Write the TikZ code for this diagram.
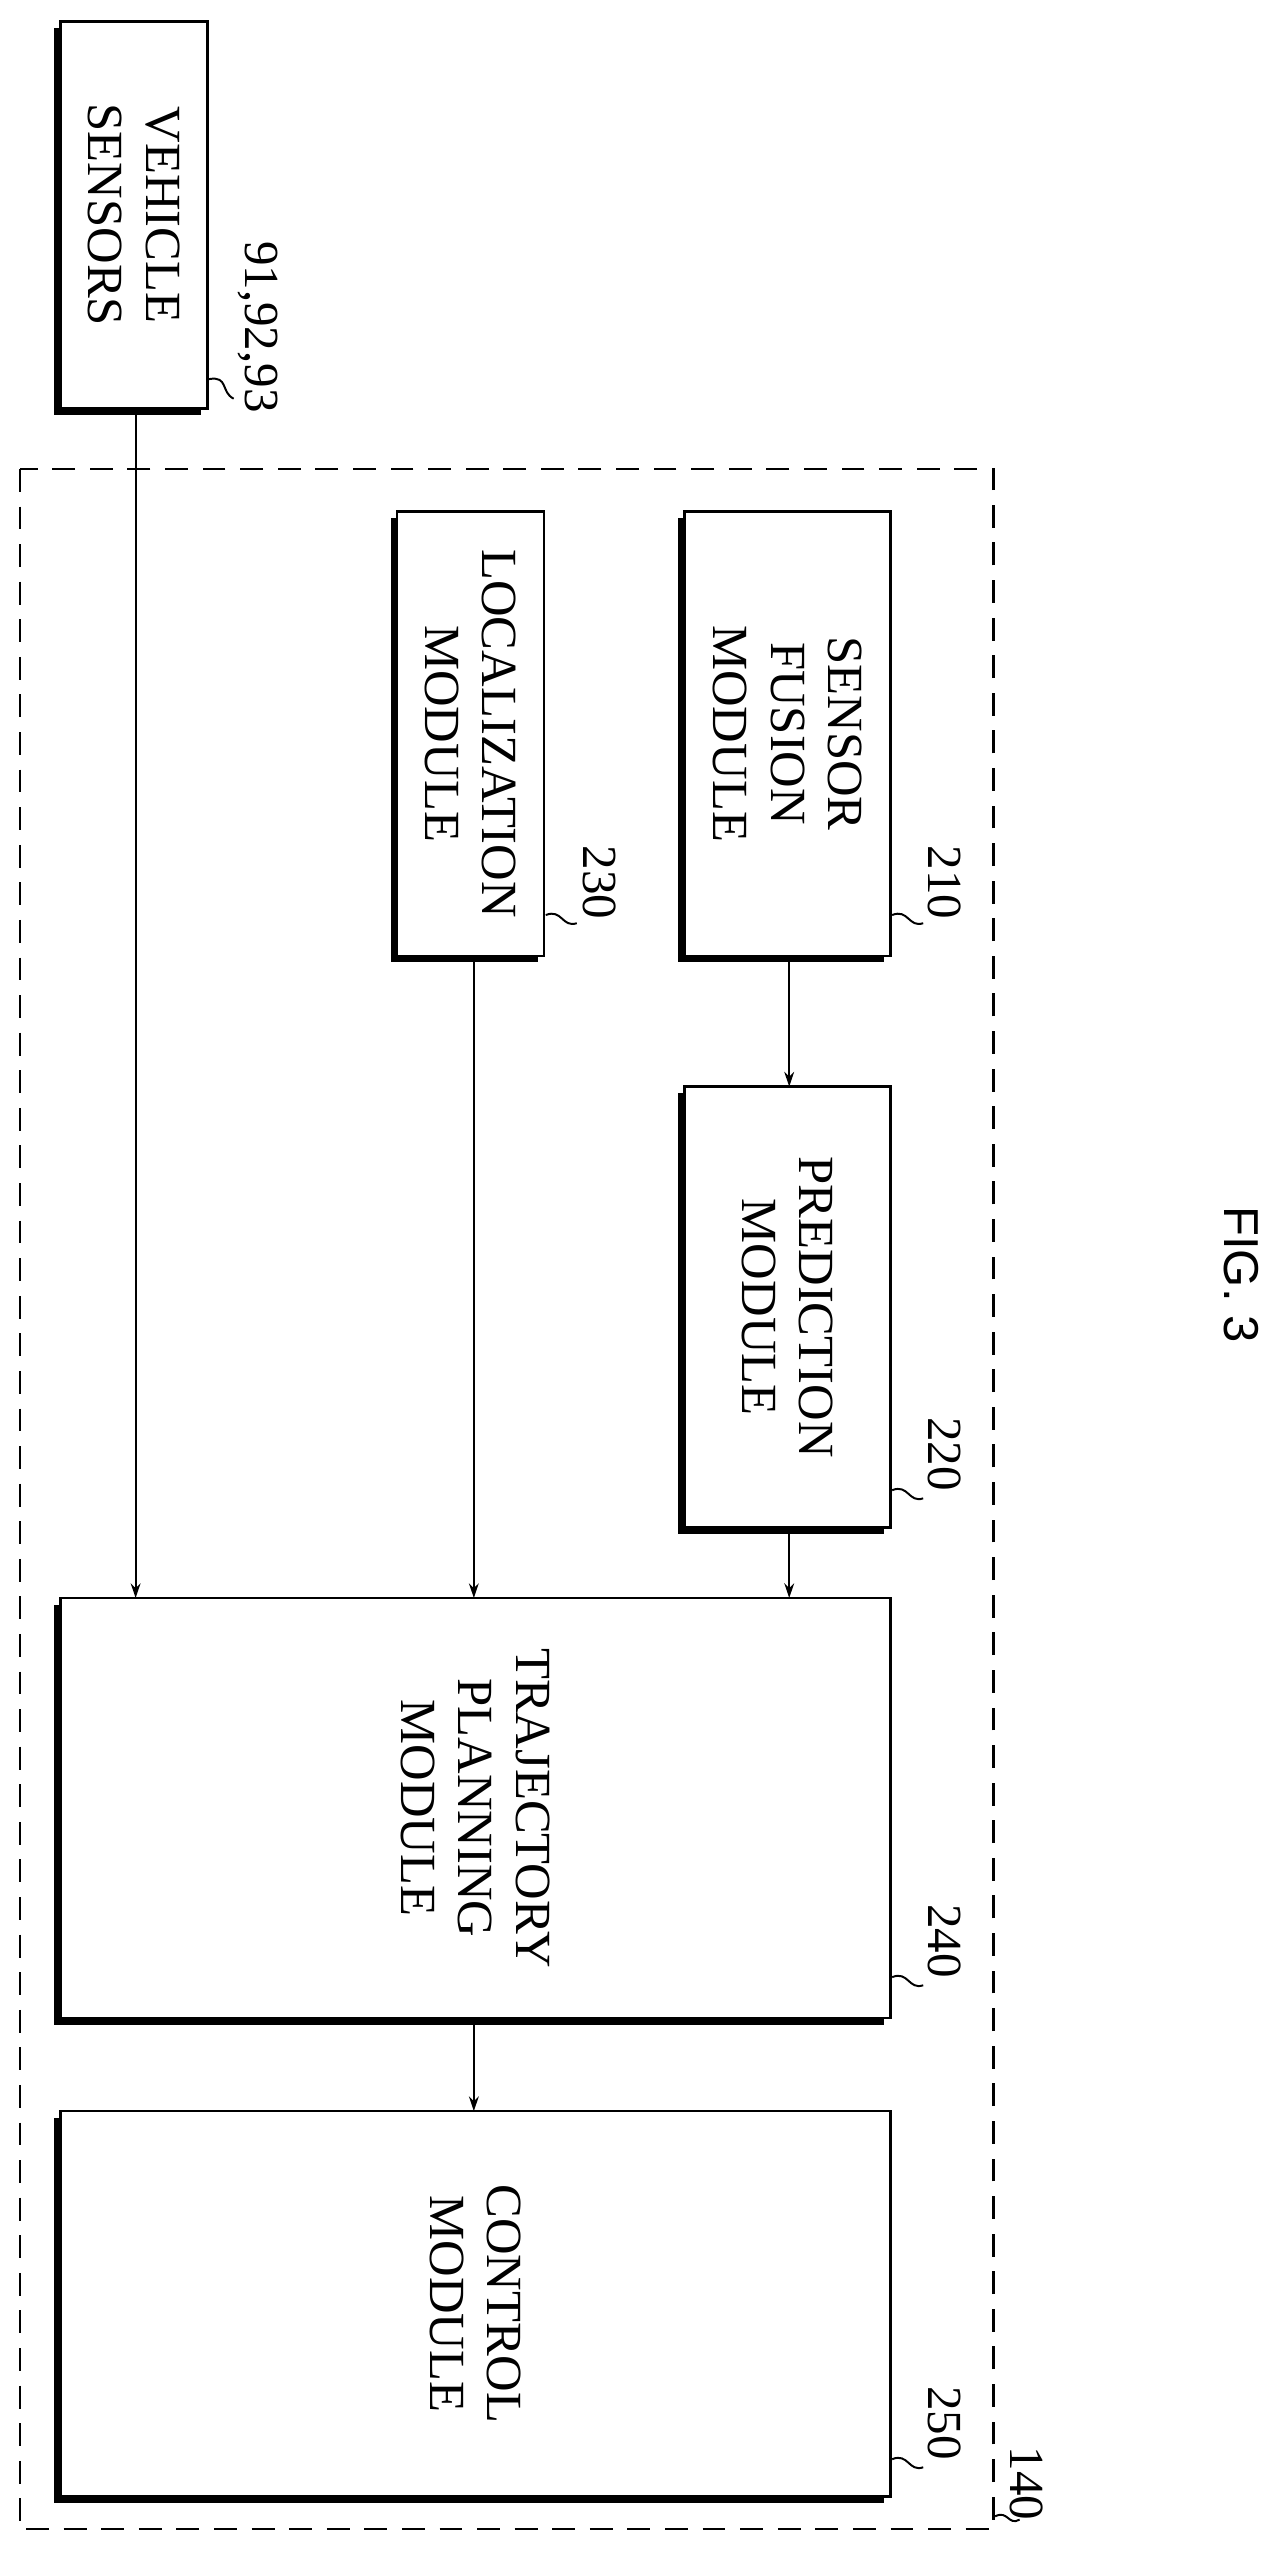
\documentclass[tikz,border=0pt]{standalone}
\usepackage{fontspec}
\usetikzlibrary{arrows.meta}
\setmainfont{Liberation Serif}
\newfontfamily\figfont{Liberation Sans}
\begin{document}
\begin{tikzpicture}[x=1pt,y=-1pt,
  box/.style={draw,line width=1.6pt,fill=white,minimum width=0pt},
  txt/.style={rotate=-90,align=center,font=\fontsize{31}{35}\selectfont},
  lbl/.style={rotate=-90,font=\fontsize{30}{34}\selectfont},
  arr/.style={line width=1.2pt,-{Stealth[length=9pt,width=6pt]}},
  lead/.style={line width=1.2pt}]
\useasboundingbox (0,0) rectangle (780,1560);
\newcommand{\shbox}[5]{% name, x1,y1,x2,y2
  \fill (#2-4,#3+4) rectangle (#4-4,#5+4);
  \draw[box] (#2,#3) rectangle (#4,#5);
  \coordinate (#1) at ({(#2+#4)/2},{(#3+#5)/2});}
\draw[dashed,line width=1.3pt,dash pattern=on 14pt off 9pt] (12,287) rectangle (608,1548);
\shbox{vs}{37}{13}{127}{250}
\shbox{sf}{419}{313}{545}{585}
\shbox{lo}{243}{313}{333}{585}
\shbox{pr}{419}{665}{545}{935}
\shbox{tp}{37}{978}{545}{1235}
\shbox{cm}{37}{1292}{545}{1528}
\node[txt] at (vs) {VEHICLE\\SENSORS};
\node[txt] at (sf) {SENSOR\\FUSION\\MODULE};
\node[txt] at (lo) {LOCALIZATION\\MODULE};
\node[txt] at (pr) {PREDICTION\\MODULE};
\node[txt] at (tp) {TRAJECTORY\\PLANNING\\MODULE};
\node[txt] at (cm) {CONTROL\\MODULE};
\coordinate (a1) at (83,250); \coordinate (a1e) at (83,978);
\coordinate (a2) at (290,585); \coordinate (a2e) at (290,978);
\coordinate (a3) at (483,585); \coordinate (a3e) at (483,665);
\coordinate (a4) at (483,935); \coordinate (a4e) at (483,978);
\coordinate (a5) at (290,1235); \coordinate (a5e) at (290,1292);
\draw[arr] (a1)--(a1e);
\draw[arr] (a2)--(a2e);
\draw[arr] (a3)--(a3e);
\draw[arr] (a4)--(a4e);
\draw[arr] (a5)--(a5e);
% leaders and labels
\draw[lead] (128,232) .. controls (140,230) and (135,240) .. (143,244);
\node[lbl] (l1) at (158,200) {91,92,93};
\draw[lead] (546,560) .. controls (556,556) and (556,568) .. (565,565);
\node[lbl] (l2) at (578,540) {210};
\draw[lead] (334,560) .. controls (344,556) and (344,568) .. (353,565);
\node[lbl] (l3) at (367,540) {230};
\draw[lead] (546,912) .. controls (556,908) and (556,920) .. (565,917);
\node[lbl] (l4) at (578,890) {220};
\draw[lead] (546,1210) .. controls (556,1206) and (556,1218) .. (565,1215);
\node[lbl] (l5) at (578,1188) {240};
\draw[lead] (546,1505) .. controls (556,1501) and (556,1513) .. (565,1510);
\node[lbl] (l6) at (578,1483) {250};
\draw[lead] (609,1540) .. controls (617,1536) and (617,1546) .. (624,1542);
\node[lbl] (l7) at (628,1520) {140};
\node[rotate=-90,font=\figfont\fontsize{30}{34}\selectfont] (fig) at (760,780) {FIG. 3};
\end{tikzpicture}
\end{document}
